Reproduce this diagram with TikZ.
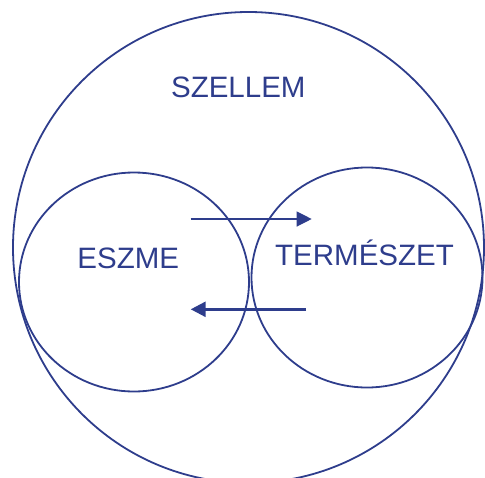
\documentclass[tikz,border=0pt]{standalone}
\usepackage{fontspec}
\setmainfont{Liberation Sans}
\usetikzlibrary{arrows.meta}

\begin{document}
\begin{tikzpicture}[x=1pt,y=-1pt,line width=1.8pt]
  \definecolor{hegelblue}{HTML}{2E3D8C}
  \tikzset{
    lbl/.style={text=hegelblue,anchor=base,inner sep=0pt,font=\fontsize{29.5}{35}\selectfont},
    flow/.style={draw=hegelblue,-{Triangle[length=15pt,width=15pt]}}
  }
  \useasboundingbox (0,0) rectangle (485,477);

  % circles
  \draw[hegelblue] (248.5,247.5) circle [radius=235.5pt];
  \draw[hegelblue] (134,282) ellipse [x radius=115pt, y radius=109.5pt];
  \draw[hegelblue] (367,277.5) ellipse [x radius=115.5pt, y radius=110pt];

  % labels
  \node[lbl] (szellem) at (238.3,97.3) {SZELLEM};
  \node[lbl] (eszme) at (128.3,268.3) {ESZME};
  \node[lbl] (termeszet) at (364.5,265) {TERMÉSZET};

  % arrows
  \coordinate (tostart) at (190.7,219);
  \coordinate (toend) at (311.7,219);
  \coordinate (backstart) at (306,309.3);
  \coordinate (backend) at (190.7,309.3);
  \draw[flow,line width=1.2pt] (tostart) -- (toend);
  \draw[flow,line width=2.6pt] (backstart) -- (backend);
\end{tikzpicture}
\end{document}
